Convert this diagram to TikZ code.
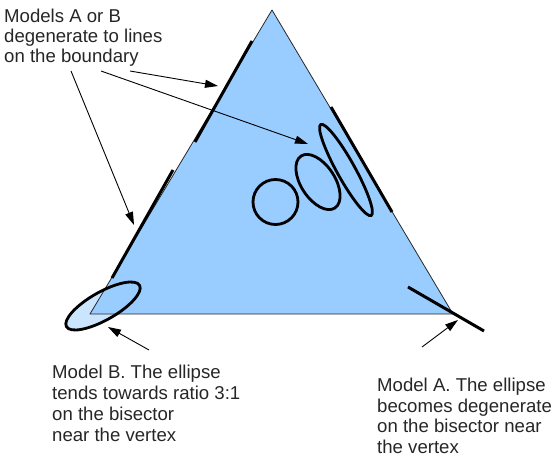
\documentclass[tikz,border=0pt]{standalone}
\usepackage{fontspec}
\setmainfont{Liberation Sans}
\usetikzlibrary{arrows.meta}
\definecolor{triblue}{RGB}{153,204,255}
\definecolor{lightblue}{RGB}{204,229,255}
\definecolor{edgegray}{RGB}{40,40,40}
\tikzset{
  lbl/.style={anchor=base west, inner sep=0pt, align=left, font=\fontsize{18.6}{20.8}\selectfont, text=black!85},
  thickline/.style={line width=3pt, black},
  ell/.style={line width=2.8pt, black},
  pointer/.style={line width=0.9pt, -{Triangle[length=13pt,width=8pt]}},
}
\begin{document}
\begin{tikzpicture}[x=1pt,y=-1pt]
\useasboundingbox (0,0) rectangle (555,460);
% triangle vertices
\coordinate (T) at (272,10);
\coordinate (L) at (90,314);
\coordinate (R) at (453,314);
% ellipse B behind triangle
\fill[lightblue] (103,306) ellipse [x radius=42, y radius=14, rotate=29.5];
\filldraw[fill=triblue, draw=edgegray, line width=0.8pt, line join=round] (T) -- (L) -- (R) -- cycle;
% thick boundary segments
\coordinate (u1) at (252,41);
\coordinate (u2) at (195,142);
\coordinate (l1) at (173,170);
\coordinate (l2) at (112,278);
\coordinate (r1) at (331,107);
\coordinate (r2) at (392,212);
\draw[thickline] (u1) -- (u2);
\draw[thickline] (l1) -- (l2);
\draw[thickline] (r1) -- (r2);
% ellipses
\draw[ell] (275.5,202) circle [radius=22.5];
\draw[ell] (318,182) ellipse [x radius=31, y radius=17, rotate=-57];
\draw[ell] (346,170) ellipse [x radius=52, y radius=9, rotate=-61];
\draw[ell] (103,306) ellipse [x radius=42, y radius=14, rotate=29.5];
% degenerate line at bottom-right vertex
\coordinate (d1) at (408,287);
\coordinate (d2) at (484,331);
\draw[thickline] (d1) -- (d2);
% texts (base anchor = baseline of last line)
\node[lbl, font=\fontsize{18.6}{20.2}\selectfont] (top) at (4,63) {Models A or B\\degenerate to lines\\on the boundary};
\node[lbl] (mb) at (52,441) {Model B. The ellipse\\tends towards ratio 3:1\\on the bisector\\near the vertex};
\node[lbl, font=\fontsize{18.6}{20.4}\selectfont] (ma) at (377,453) {Model A. The ellipse\\becomes degenerate\\on the bisector near\\the vertex};
% arrows
\coordinate (s1) at (130,71); \coordinate (e1) at (218,86);
\coordinate (s2) at (101,71); \coordinate (e2) at (308,144);
\coordinate (s3) at (71,71);  \coordinate (e3) at (134,225);
\coordinate (s4) at (149,350); \coordinate (e4) at (108,327);
\coordinate (s5) at (422,347); \coordinate (e5) at (458,320);
\draw[pointer] (s1) -- (e1);
\draw[pointer] (s2) -- (e2);
\draw[pointer] (s3) -- (e3);
\draw[pointer] (s4) -- (e4);
\draw[pointer] (s5) -- (e5);
\end{tikzpicture}
\end{document}
